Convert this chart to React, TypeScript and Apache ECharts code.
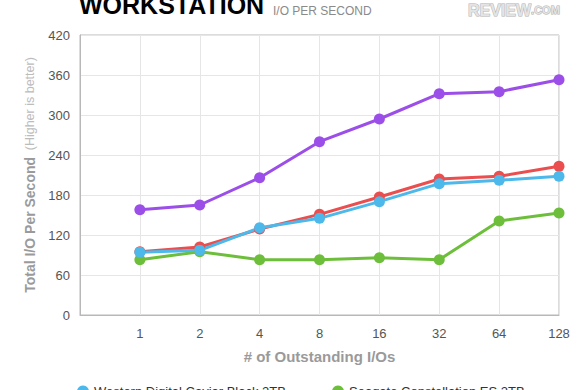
import React, { useEffect, useRef } from "react";
import * as echarts from "echarts";

const categories = ["", "1", "2", "4", "8", "16", "32", "64", "128"];
const yTicks = [0, 60, 120, 180, 240, 300, 360, 420];

const seriesNames = [
  "Western Digital Caviar Black 2TB",
  "Seagate Constellation ES 2TB",
  "Western Digital RE4 2TB",
  "Hitachi Ultrastar 2TB",
];
const blueValues = [null, 94, 97, 131, 145, 170, 197, 202, 208];
const greenValues = [null, 83, 95, 83, 83, 86, 83, 141, 153];
const redValues = [null, 95, 102, 129, 151, 177, 204, 208, 223];
const purpleValues = [null, 158, 165, 206, 260, 294, 332, 335, 353];

const colors = ["#4cb9ea", "#6dbf3b", "#ea4e4e", "#9c4fe8"];

export default function App() {
  const ref = useRef<HTMLDivElement>(null);
  useEffect(() => {
    const chart = echarts.init(ref.current!, null, { renderer: "svg" });
    const font = "'Liberation Sans', Arial, Helvetica, sans-serif";
    const mk = (name: string, data: any[], color: string) => ({
      name,
      type: "line",
      data,
      symbol: "circle",
      symbolSize: 11,
      lineStyle: { width: 3, color },
      itemStyle: { color },
      color,
    });
    const legendBase = {
      orient: "horizontal",
      top: 380,
      icon: "circle",
      itemWidth: 12,
      itemHeight: 12,
      textStyle: { color: "#333", fontSize: 13, fontFamily: font },
    };
    chart.setOption({
      animation: false,
      textStyle: { fontFamily: font },
      grid: { left: 80, right: 21, top: 35, bottom: 75, containLabel: false },
      xAxis: {
        type: "category",
        data: categories,
        boundaryGap: false,
        name: "# of Outstanding I/Os",
        nameLocation: "middle",
        nameGap: 34,
        nameTextStyle: { fontSize: 15, fontWeight: "bold", color: "#9a9a9a", fontFamily: font },
        axisLine: { show: true, lineStyle: { color: "#b8b8b8", width: 1 } },
        axisTick: { show: false },
        axisLabel: { color: "#555", fontSize: 13, margin: 12, fontFamily: font },
        splitLine: { show: true, lineStyle: { color: "#e6e6e6", width: 1 } },
      },
      yAxis: {
        type: "value",
        min: yTicks[0],
        max: yTicks[yTicks.length - 1],
        interval: 60,
        name: "{a|Total I/O Per Second}  {b|(Higher is better)}",
        nameLocation: "middle",
        nameGap: 40,
        nameTextStyle: {
          rich: {
            a: { fontSize: 14, fontWeight: "bold", color: "#9a9a9a", fontFamily: font },
            b: { fontSize: 12.5, color: "#bcbcbc", fontFamily: font },
          },
        },
        axisLine: { show: true, lineStyle: { color: "#b8b8b8", width: 1 } },
        axisTick: { show: false },
        axisLabel: { color: "#555", fontSize: 13, margin: 10, fontFamily: font },
        splitLine: { show: true, lineStyle: { color: "#e6e6e6", width: 1 } },
      },
      legend: [
        { ...legendBase, data: [seriesNames[0]], left: 72 },
        { ...legendBase, data: [seriesNames[1]], left: 327 },
      ],
      graphic: [
        {
          type: "rect",
          shape: { x: 80, y: 35, width: 479, height: 280 },
          style: { fill: "none", stroke: "#b8b8b8", lineWidth: 1 },
          silent: true,
          z: 0,
        },
        {
          type: "text",
          x: 79,
          y: 17,
          style: {
            text: "WORKSTATION",
            font: `bold 25px ${font}`,
            fill: "#000",
            align: "left",
            verticalAlign: "bottom",
          },
        },
        {
          type: "text",
          x: 273,
          y: 17,
          style: {
            text: "I/O PER SECOND",
            font: `12px ${font}`,
            fill: "#8a8a8a",
            align: "left",
            verticalAlign: "bottom",
          },
        },
        {
          type: "text",
          x: 468,
          y: 18,
          style: {
            text: "{r|REVIEW}{c|.COM}",
            align: "left",
            verticalAlign: "bottom",
            rich: {
              r: { font: `bold 16px ${font}`, fill: "#e4e4e4", stroke: "#b0b0b0", lineWidth: 1 },
              c: { font: `bold 11px ${font}`, fill: "#e4e4e4", stroke: "#b0b0b0", lineWidth: 1 },
            },
          },
        },
      ],
      series: [
        mk(seriesNames[3], purpleValues, colors[3]),
        mk(seriesNames[1], greenValues, colors[1]),
        mk(seriesNames[2], redValues, colors[2]),
        mk(seriesNames[0], blueValues, colors[0]),
      ],
    });
    return () => chart.dispose();
  }, []);
  return <div ref={ref} style={{ width: 580, height: 390, position: "absolute", left: 0, top: 0 }} />;
}
